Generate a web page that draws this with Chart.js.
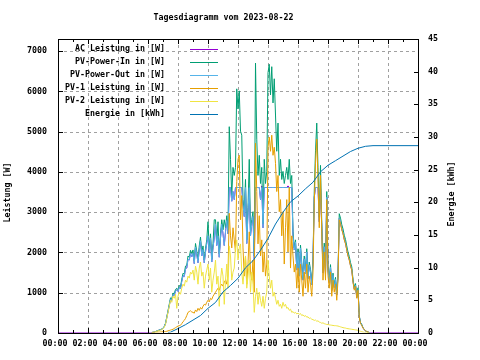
<!DOCTYPE html>
<html><head><meta charset="utf-8">
<script src="https://cdn.jsdelivr.net/npm/chart.js@4"></script>
<style>html,body{margin:0;padding:0;background:#fff}canvas{display:block}</style>
</head><body>
<canvas id="c" width="480" height="360"></canvas>
<script>
const titleText = 'Tagesdiagramm vom 2023-08-22';
const yLabel = 'Leistung [W]';
const y2Label = 'Energie [kWh]';
const seriesLabels = ['AC Leistung in [W]', 'PV-Power-In in [W]', 'PV-Power-Out in [W]', 'PV-1 Leistung in [W]', 'PV-2 Leistung in [W]', 'Energie in [kWh]'];
const seriesColors = ['#9400d3', '#009e73', '#56b4e9', '#e69f00', '#f0e442', '#0072b2'];
const xTickHours = [0, 2, 4, 6, 8, 10, 12, 14, 16, 18, 20, 22, 24];
const powerTicks = [0, 1000, 2000, 3000, 4000, 5000, 6000, 7000];
const energyTicks = [0, 5, 10, 15, 20, 25, 30, 35, 40, 45];

// 5-minute samples starting at 06:00 (one row per hour)
const dayStart = '06:00';
const dayStepMin = 5;

const acPower = [
  0,0,0,0,5,10,24,34,48,58,72,82,
  105,145,220,365,520,670,825,800,940,920,1030,1060,
  1020,1120,1085,1270,1410,1390,1580,1600,1820,1800,1960,1880,
  1970,1710,2120,1940,1730,2060,2280,1900,2060,1730,2000,2210,
  2400,1980,2350,1750,2110,2350,2690,2160,2400,1870,2350,2690,
  2450,2160,2500,2780,2450,3600,3600,3260,3500,3300,3600,3600,
  3600,3600,3600,3600,3170,2880,3600,2210,2980,3600,2400,2690,
  2880,1820,3600,3600,3600,3600,3300,3640,2600,3600,3600,3600,
  3600,3600,3600,3600,3600,3600,3600,3600,3600,3600,3600,3600,
  3600,3600,3600,3600,3640,3600,3600,3600,2400,2050,2250,1550,
  2000,1400,2100,1650,1300,1830,1460,2000,1340,1680,1500,1180,
  1750,3360,3600,3600,3600,2750,3600,2620,1480,2130,1450,3360,
  1540,1240,1620,1040,1420,1120,1320,930,1400,2830,2730,2570,
  2470,2320,2220,2060,1920,1810,1670,1560,1270,1080,1170,870,
  1060,400,240,190,115,70,40,20,10,0,0,0,
  0
];
const acNightTimes = ['00:00', '24:00'];
const acNightValues = [0, 0];

const pvPowerIn = [
  null,null,null,0,5,10,25,35,50,60,75,85,
  110,150,230,380,540,700,860,830,980,960,1070,1100,
  1060,1170,1130,1320,1470,1450,1650,1670,1900,1870,2040,1960,
  2050,1780,2210,2020,1800,2150,2370,1980,2150,1800,2080,2300,
  2750,2060,2450,1820,2200,2800,2800,2250,2750,1950,2450,2800,
  2550,2800,2600,2900,2550,5110,4300,3400,4100,3900,4100,6050,
  5550,6000,5000,4900,3300,3000,3800,2300,3100,4300,2500,2800,
  3000,1900,6690,4800,3900,4400,3700,4100,2700,4300,3700,4000,
  6450,6660,5900,6600,5700,6300,5400,4500,5200,3900,4300,3800,
  4000,3700,3900,4100,3800,4300,3700,3900,2500,2100,2300,1600,
  2080,1450,2170,1720,1340,1900,1520,2080,1390,1750,1560,1230,
  1820,3500,4510,5200,4090,2860,4150,2730,1540,2220,1510,3500,
  1600,1290,1685,1080,1475,1170,1370,965,1460,2950,2840,2680,
  2570,2415,2310,2150,1995,1890,1735,1630,1325,1120,1215,910,
  1110,420,250,200,120,75,45,25,10,0,null,null,
  null
];

const pvPowerOut = [
  null,null,null,0,5,10,24,34,48,58,72,82,
  105,145,220,365,520,670,825,800,940,920,1030,1060,
  1020,1120,1085,1270,1410,1390,1580,1600,1820,1800,1960,1880,
  1970,1710,2120,1940,1730,2060,2280,1900,2060,1730,2000,2210,
  2400,1980,2350,1750,2110,2350,2690,2160,2400,1870,2350,2690,
  2450,2160,2500,2780,2450,3600,3600,3260,3500,3300,3600,3600,
  3600,3600,3600,3600,3170,2880,3600,2210,2980,3600,2400,2690,
  2880,1820,3600,3600,3600,3600,3300,3600,2600,3600,3600,3600,
  3600,3600,3600,3600,3600,3600,3600,3600,3600,3600,3600,3600,
  3600,3600,3600,3600,3600,3600,3600,3600,2400,2050,2250,1550,
  2000,1400,2100,1650,1300,1830,1460,2000,1340,1680,1500,1180,
  1750,3360,3600,3600,3600,2750,3600,2620,1480,2130,1450,3360,
  1540,1240,1620,1040,1420,1120,1320,930,1400,2830,2730,2570,
  2470,2320,2220,2060,1920,1810,1670,1560,1270,1080,1170,870,
  1060,400,240,190,115,70,40,20,10,0,null,null,
  null
];

const pv1Power = [
  null,null,null,0,0,0,5,5,10,10,15,15,
  20,20,25,30,40,50,60,70,80,100,120,140,
  160,170,180,220,270,300,350,420,500,520,540,510,
  500,480,560,520,600,550,620,580,650,700,680,750,
  800,760,850,820,900,950,1000,1050,1100,1050,1150,1200,
  1150,1250,1300,1200,1450,2960,2400,2100,2600,2300,2000,3750,
  4300,4400,2800,3400,2100,1400,1900,1200,1700,2500,1500,1300,
  1800,1000,4700,3500,2200,2900,1900,2300,1500,2000,1400,1700,
  4600,4850,4500,4900,4400,4600,4200,3500,3900,3000,3300,2400,
  3000,1700,2600,3300,2000,3600,1600,2400,1900,1500,1700,1100,
  1600,1000,1700,1300,900,1500,1100,1700,1000,1400,1200,900,
  1500,3200,4200,4800,3800,2600,3900,2500,1300,2000,1300,3300,
  1400,1100,1500,900,1300,1000,1200,800,1300,2800,2700,2550,
  2450,2300,2200,2050,1900,1800,1650,1550,1250,1050,1150,850,
  1050,380,220,180,110,70,45,25,10,0,null,null,
  null
];

const pv2Power = [
  null,null,null,0,5,10,20,30,40,50,60,70,
  90,130,200,350,500,650,800,750,900,850,950,600,
  900,1000,950,1100,1200,1150,1300,1250,1400,1350,1500,1450,
  1550,1300,1650,1500,1200,1600,1750,1400,1500,1100,1400,1550,
  1700,1300,1600,1000,1300,1500,1800,1200,1400,650,1300,1600,
  1400,700,1300,1700,1100,2150,1900,1300,1500,1600,2100,2300,
  1800,2100,2200,1500,1200,1600,1900,1100,1400,1800,1000,1500,
  1200,500,900,1100,700,1000,800,650,900,600,850,1000,
  1800,1400,1100,1300,900,1000,850,700,800,650,700,600,
  750,650,700,600,620,550,580,500,520,480,500,460,
  480,450,470,420,440,400,420,380,390,350,360,330,
  320,300,310,280,290,260,250,230,240,220,210,200,
  200,190,185,180,175,170,170,165,160,150,140,130,
  120,115,110,100,95,90,85,80,75,70,65,60,
  55,40,30,20,10,5,0,0,0,0,null,null,
  null
];

const energyTimes = ['07:20','07:30','08:00','08:30','09:00','09:30','10:00','10:30','11:00','11:30','12:00','12:30','13:00','13:30','14:00','14:30','15:00','15:30','16:00','16:30','17:00','17:30','18:00','18:30','19:00','19:30','20:00','20:30','21:00','24:00'];
const energyKWh = [0,0.05,0.6,1.2,1.9,2.6,3.7,4.6,6.2,7.2,8.3,9.9,11.0,12.6,14.4,16.6,18.4,20.0,20.9,22.0,23.0,24.6,25.6,26.3,27.0,27.7,28.2,28.5,28.6,28.6];

// ---------- build ----------
const FONT = "'DejaVu Sans Mono', 'Liberation Mono', monospace";
const FSIZE = 8.3;
function hm(s) { const p = s.split(':').map(Number); return p[0] + p[1] / 60; }
const day0 = hm(dayStart);
const dayHours = pvPowerIn.map((_, i) => day0 + i * dayStepMin / 60);
const pts = arr => arr.map((v, i) => ({ x: dayHours[i], y: v }));
const acPoints = [{ x: hm(acNightTimes[0]), y: acNightValues[0] }]
  .concat(pts(acPower))
  .concat([{ x: hm(acNightTimes[1]), y: acNightValues[1] }]);
const energyPoints = energyTimes.map((t, i) => ({ x: hm(t), y: energyKWh[i] }));

const seriesData = [acPoints, pts(pvPowerIn), pts(pvPowerOut), pts(pv1Power), pts(pv2Power), energyPoints];
const datasets = seriesData.map((d, i) => ({
  label: seriesLabels[i],
  data: d,
  borderColor: seriesColors[i],
  backgroundColor: seriesColors[i],
  borderWidth: 1,
  pointRadius: 0,
  fill: false,
  tension: 0,
  spanGaps: false,
  yAxisID: i === 5 ? 'y2' : 'y',
  order: 6 - i
}));

const under = {
  id: 'under',
  beforeDraw(chart) {
    const c = chart.ctx; c.save(); c.fillStyle = '#fff'; c.fillRect(0, 0, chart.width, chart.height); c.restore();
  },
  beforeDatasetsDraw(chart) {
    const { ctx: c, chartArea: a, scales } = chart;
    c.save();
    c.strokeStyle = '#a0a0a0'; c.lineWidth = 1; c.setLineDash([3, 3]);
    xTickHours.forEach(h => {
      if (h === 0 || h === 24) return;
      const px = Math.round(scales.x.getPixelForValue(h)) + 0.5;
      c.beginPath(); c.moveTo(px, a.top); c.lineTo(px, a.bottom); c.stroke();
    });
    powerTicks.forEach(v => {
      if (v === 0) return;
      const py = Math.round(scales.y.getPixelForValue(v)) + 0.5;
      c.beginPath(); c.moveTo(a.left, py); c.lineTo(a.right, py); c.stroke();
    });
    c.restore();
    // shift the data lines half a pixel so flat lines fall on whole pixel rows
    c.save();
    c.translate(0, -0.5);
  }
};

const over = {
  id: 'over',
  afterDatasetsDraw(chart) {
    const { ctx: c, chartArea: a, scales } = chart;
    c.restore();
    const L = Math.round(a.left), R = Math.round(a.right), T = Math.round(a.top), B = Math.round(a.bottom);
    c.save();
    c.strokeStyle = '#000'; c.lineWidth = 1; c.setLineDash([]);
    c.strokeRect(L + 0.5, T + 0.5, R - L, B - T);
    c.beginPath();
    powerTicks.forEach(v => {
      const py = Math.round(scales.y.getPixelForValue(v)) + 0.5;
      c.moveTo(L, py); c.lineTo(L + 5, py);
    });
    energyTicks.forEach(v => {
      const py = Math.round(scales.y2.getPixelForValue(v)) + 0.5;
      c.moveTo(R + 1, py); c.lineTo(R - 4, py);
    });
    for (let h = 0; h <= 24; h++) {
      const px = Math.round(scales.x.getPixelForValue(h)) + 0.5;
      const len = h % 2 === 0 ? 5 : 3;
      c.moveTo(px, B); c.lineTo(px, B - len);
      c.moveTo(px, T); c.lineTo(px, T + len);
    }
    c.stroke();

    // legend
    c.font = 'bold ' + FSIZE + 'px ' + FONT;
    c.textAlign = 'right'; c.textBaseline = 'middle';
    seriesLabels.forEach((lab, i) => {
      const yy = 49 + i * 13;
      c.fillStyle = '#000';
      c.fillText(lab, 165, yy);
      c.strokeStyle = seriesColors[i];
      c.beginPath(); c.moveTo(190, yy + 0.5); c.lineTo(218, yy + 0.5); c.stroke();
    });

    // title and axis titles
    c.fillStyle = '#000'; c.textAlign = 'center'; c.textBaseline = 'middle';
    c.fillText(titleText, 223.5, 18);
    c.save(); c.translate(8, 192.5); c.rotate(-Math.PI / 2); c.fillText(yLabel, 0, 0); c.restore();
    c.save(); c.translate(452, 194); c.rotate(-Math.PI / 2); c.fillText(y2Label, 0, 0); c.restore();
    c.restore();
  }
};

Chart.defaults.font.family = FONT;
Chart.defaults.font.size = FSIZE;
Chart.defaults.font.weight = 'bold';
Chart.defaults.color = '#000';

new Chart(document.getElementById('c'), {
  type: 'line',
  data: { datasets },
  options: {
    responsive: false,
    animation: false,
    events: [],
    layout: { padding: { top: 39, left: 0, right: 0, bottom: 0 } },
    plugins: { legend: { display: false }, tooltip: { enabled: false }, title: { display: false } },
    scales: {
      x: {
        type: 'linear', min: 0, max: 24,
        afterBuildTicks: s => { s.ticks = xTickHours.map(v => ({ value: v })); },
        afterFit: s => { s.height = 27; },
        ticks: { autoSkip: false, maxRotation: 0, padding: 6, labelOffset: -3,
          callback: v => String(v % 24).padStart(2, '0') + ':00' },
        grid: { display: false, drawTicks: false },
        border: { display: false }
      },
      y: {
        type: 'linear', position: 'left', min: 0, max: 7300,
        afterBuildTicks: s => { s.ticks = powerTicks.map(v => ({ value: v })); },
        afterFit: s => { s.width = 58; },
        ticks: { padding: 11, callback: v => String(v) },
        grid: { display: false, drawTicks: false },
        border: { display: false }
      },
      y2: {
        type: 'linear', position: 'right', min: 0, max: 45,
        afterBuildTicks: s => { s.ticks = energyTicks.map(v => ({ value: v })); },
        afterFit: s => { s.width = 62; },
        ticks: { padding: 10, callback: v => String(v) },
        grid: { display: false, drawTicks: false },
        border: { display: false }
      }
    }
  },
  plugins: [under, over]
});
</script>
</body></html>
